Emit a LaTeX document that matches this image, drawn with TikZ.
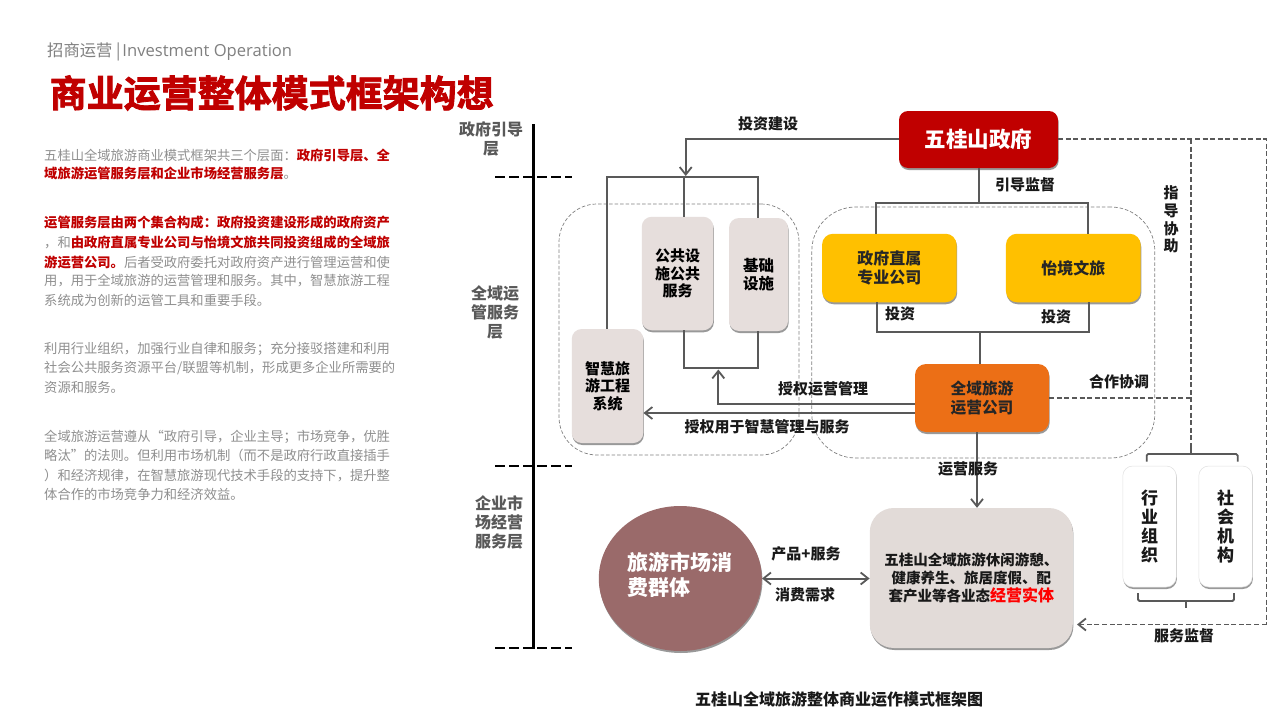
\documentclass[tikz,border=0pt]{standalone}
\usepackage{fontspec}
\setmainfont{Noto Sans CJK SC}
\newfontfamily\latinf{Open Sans}
\newfontfamily\titlef[FakeBold=2.2]{Noto Sans CJK SC Bold}
\usetikzlibrary{arrows.meta,shadows,positioning,shapes.geometric}
\definecolor{tred}{HTML}{C00000}
\definecolor{tgray}{HTML}{8F8F8F}
\definecolor{lgray}{HTML}{595959}
\definecolor{conn}{HTML}{595959}
\definecolor{pale}{HTML}{E6DEDC}
\definecolor{pale2}{HTML}{E2DBD8}
\definecolor{gold}{HTML}{FFC000}
\definecolor{orng}{HTML}{EC6F16}
\definecolor{mauve}{HTML}{9A6A6A}
\newcommand{\rb}[1]{{\bfseries\color{tred}#1}}
\newcommand{\fz}[1]{\fontsize{#1}{#1}\selectfont}
\tikzset{
  x=1pt,y=-1pt,
  shd/.style={drop shadow={shadow xshift=0.6pt,shadow yshift=-2pt,fill=black,opacity=.4}},
  card/.style={shape=rectangle,rounded corners=#1,inner sep=0pt,align=center,shd},
  card/.default=10pt,
  bodyline/.style={anchor=base west,inner sep=0pt,text=tgray,font=\fz{13.3}},
  lab/.style={inner sep=0pt,align=center,font=\bfseries\fontsize{15}{17.8}\selectfont,text=black!90},
  layerlab/.style={inner sep=0pt,align=center,font=\bfseries\fontsize{16}{19}\selectfont,text=lgray},
  cardtext/.style 2 args={font=\bfseries\fontsize{#1}{#2}\selectfont},
  wire/.style={draw=conn,line width=2pt},
  dwire/.style={draw=conn,line width=1.9pt,dash pattern=on 5pt off 2.6pt},
  tip/.style={-{Straight Barb[length=7.5pt,width=12pt,line width=1.8pt]}},
  grp/.style={shape=rectangle,draw=black!50,line width=.7pt,dash pattern=on 3.5pt off 2pt,inner sep=0pt},
  lay/.style={draw=black,line width=2.6pt,dash pattern=on 10pt off 4pt},
  brk/.style={draw=conn,line width=1.8pt,rounded corners=1.5pt},
}
\begin{document}
\begin{tikzpicture}
\useasboundingbox (0,0) rectangle (1280,720);
\fill[white] (0,0) rectangle (1280,720);

% header
\node[anchor=base west,inner sep=0pt,text=black!50,font=\fz{16.3}] (hdr) at (47,56) {招商运营 |\hspace{2pt}{\latinf\fontsize{16.6}{17}\selectfont Investment Operation}};
\node[anchor=base west,inner sep=0pt,text=tred,font=\titlef\fz{37}] (ttl) at (49.5,107) {商业运营整体模式框架构想};

% left text
\node[bodyline] (l1) at (44,160) {五桂山全域旅游商业模式框架共三个层面：\rb{政府引导层、全}};
\node[bodyline] (l2) at (44,178) {\rb{域旅游运管服务层和企业市场经营服务层}。};
\node[bodyline] (l3) at (44,227) {\rb{运管服务层由两个集合构成：政府投资建设形成的政府资产}};
\node[bodyline] (l4) at (44,247) {，和\rb{由政府直属专业公司与怡境文旅共同投资组成的全域旅}};
\node[bodyline] (l5) at (44,267) {\rb{游运营公司。}后者受政府委托对政府资产进行管理运营和使};
\node[bodyline] (l6) at (44,285) {用，用于全域旅游的运营管理和服务。其中，智慧旅游工程};
\node[bodyline] (l7) at (44,305) {系统成为创新的运管工具和重要手段。};
\node[bodyline] (l8) at (44,353) {利用行业组织，加强行业自律和服务；充分接驳搭建和利用};
\node[bodyline] (l9) at (44,372) {社会公共服务资源平台/联盟等机制，形成更多企业所需要的};
\node[bodyline] (l10) at (44,392) {资源和服务。};
\node[bodyline] (l11) at (44,441) {全域旅游运营遵从“政府引导，企业主导；市场竞争，优胜};
\node[bodyline] (l12) at (44,460) {略汰”的法则。但利用市场机制（而不是政府行政直接插手};
\node[bodyline] (l13) at (44,480) {）和经济规律，在智慧旅游现代技术手段的支持下，提升整};
\node[bodyline] (l14) at (44,499) {体合作的市场竞争力和经济效益。};

% layers axis
\coordinate (axT) at (533,124);
\coordinate (axB) at (533,649);
\draw[black,line width=3pt] (axT) -- (axB);
\coordinate (d1a) at (495,177); \coordinate (d1b) at (572,177);
\coordinate (d2a) at (495,466); \coordinate (d2b) at (572,466);
\coordinate (d3a) at (495,648); \coordinate (d3b) at (572,648);
\draw[lay] (d1a) -- (d1b);
\draw[lay] (d2a) -- (d2b);
\draw[lay] (d3a) -- (d3b);
\node[layerlab] (la1) at (491,139) {政府引导\\层};
\node[layerlab] (la2) at (495,312.5) {全域运\\管服务\\层};
\node[layerlab] (la3) at (499,522.5) {企业市\\场经营\\服务层};

% dashed groups
\node[grp,rounded corners=38pt,minimum width=240pt,minimum height=251pt] (gL) at (679,329.5) {};
\node[grp,rounded corners=44pt,minimum width=343pt,minimum height=251pt] (gR) at (983.3,332.5) {};

% nodes
\node[card=9pt,fill=tred,text=white,cardtext={21.5}{25},minimum width=159pt,minimum height=57pt] (gov) at (978.5,139.5) {五桂山政府};
\node[card,fill=pale,text=black,cardtext={15}{17.6},minimum width=71.5pt,minimum height=113.5pt] (pub) at (677.5,273.5) {公共设\\施公共\\服务};
\node[card,fill=pale,text=black,cardtext={15.5}{18},minimum width=59pt,minimum height=113pt] (inf) at (758.5,274.5) {基础\\设施};
\node[card,fill=pale,text=black,cardtext={15}{17.6},minimum width=71.5pt,minimum height=114pt] (sys) at (607.5,386) {智慧旅\\游工程\\系统};
\node[card=11pt,fill=gold,text=black!85,cardtext={16}{18.5},minimum width=134.5pt,minimum height=68.5pt] (y1) at (889.3,268) {政府直属\\专业公司};
\node[card=11pt,fill=gold,text=black!85,cardtext={16}{18.5},minimum width=134.7pt,minimum height=68.5pt] (y2) at (1073.3,268) {怡境文旅};
\node[card=11pt,fill=orng,text=black!85,cardtext={15.7}{19.2},minimum width=134pt,minimum height=68pt] (co) at (982,398) {全域旅游\\运营公司};
\node[card=24pt,fill=pale2,text=black!90,cardtext={14.5}{18},minimum width=203pt,minimum height=140pt] (biz) at (971.3,578) {五桂山全域旅游休闲游憩、\\健康养生、旅居度假、配\\套产业等各业态{\color{red}\fontsize{16}{16}\selectfont 经营实体}};
\node[card=10pt,fill=white,draw=black!12,line width=.5pt,text=black!90,cardtext={17}{19.3},minimum width=53.5pt,minimum height=121pt] (hy) at (1149.5,526.5) {行\\业\\组\\织};
\node[card=10pt,fill=white,draw=black!12,line width=.5pt,text=black!90,cardtext={17}{19.3},minimum width=53.5pt,minimum height=121pt] (sh) at (1225.5,526.5) {社\\会\\机\\构};
\node[shape=ellipse,inner sep=0pt,fill=mauve,shd,minimum width=163pt,minimum height=145pt] (mkt) at (680.3,578.5) {};
\node[anchor=west,inner sep=0pt,align=left,text=white,font=\bfseries\fontsize{21}{25}\selectfont] (mktT) at (627,574.5) {旅游市场消\\费群体};

% junctions
\coordinate (j1) at (685.7,139);
\coordinate (j2) at (685.7,176);
\coordinate (t1) at (607.3,177);
\coordinate (t2) at (758.3,177);
\coordinate (t3) at (683.5,177);
\coordinate (b1) at (683.5,367.5);
\coordinate (b2) at (758.3,367.5);
\coordinate (a1) at (718.3,404);
\coordinate (a2) at (718.3,369.5);
\coordinate (g1) at (979,203);
\coordinate (g2) at (876,203);
\coordinate (g3) at (1087.7,203);
\coordinate (h1) at (876.5,331.5);
\coordinate (h2) at (1088.5,331.5);
\coordinate (h3) at (980,331.5);
\coordinate (dv1) at (1191,139);
\coordinate (dv2) at (1191,398);
\coordinate (dv3) at (1191,446);
\coordinate (dr1) at (1266.5,139);
\coordinate (dr2) at (1266.5,624.5);
\coordinate (dr3) at (1077,624.5);
\coordinate (a3) at (718.3,413);
\coordinate (v1) at (977,432);

% connectors
\draw[wire,tip] (gov.west |- j1) -- (j1) -- (j2);
\draw[wire] (sys.north -| t1) -- (t1) -- (t2) -- (inf.north -| t2);
\draw[wire] (t3) -- (pub.north -| t3);
\draw[wire] (pub.south -| b1) -- (b1) -- (b2) -- (inf.south -| b2);
\draw[wire,tip] (co.west |- a1) -- (a1) -- (a2);
\draw[wire,tip] (co.west |- a3) -- (sys.east |- a3);
\draw[wire] (gov.south -| g1) -- (g1);
\draw[wire] (y1.north -| g2) -- (g2) -- (g3) -- (y2.north -| g3);
\draw[wire] (y1.south -| h1) -- (h1) -- (h2) -- (y2.south -| h2);
\draw[wire] (h3) -- (co.north -| h3);
\draw[wire,tip] (co.south -| v1) -- (biz.north -| v1);
\draw[wire,{Straight Barb[length=7.5pt,width=12pt,line width=1.8pt]}-{Straight Barb[length=7.5pt,width=12pt,line width=1.8pt]}] (mkt.east) -- (biz.west |- mkt.east);
\draw[dwire] (gov.east |- dv1) -- (dr1) -- (dr2);
\draw[dwire,tip] (dr2) -- (dr3);
\draw[dwire] (dv1) -- (dv3);
\draw[dwire] (co.east |- dv2) -- (dv2);

% brackets
\coordinate (kt1) at (1146.7,461.5); \coordinate (kt2) at (1146.7,454);
\coordinate (kt3) at (1237.7,454); \coordinate (kt4) at (1237.7,461.5);
\coordinate (kt5) at (1191,454);
\draw[brk] (kt1) -- (kt2) -- (kt3) -- (kt4);
\draw[brk,rounded corners=0pt] (dv3) -- (kt5);
\coordinate (kb1) at (1138,593); \coordinate (kb2) at (1138,601);
\coordinate (kb3) at (1234,601); \coordinate (kb4) at (1234,593);
\coordinate (kb5) at (1186,601); \coordinate (kb6) at (1186,608);
\draw[brk] (kb1) -- (kb2) -- (kb3) -- (kb4);
\draw[brk,rounded corners=0pt] (kb5) -- (kb6);

% labels
\node[lab] (t1a) at (768,124) {投资建设};
\node[lab] (t2a) at (1025,185) {引导监督};
\node[lab] (t3a) at (1171,219.5) {指\\导\\协\\助};
\node[lab] (t4a) at (900,314) {投资};
\node[lab] (t5a) at (1056,317) {投资};
\node[lab] (t6a) at (823,389) {授权运营管理};
\node[lab] (t7a) at (767,427) {授权用于智慧管理与服务};
\node[lab] (t8a) at (1119,382) {合作协调};
\node[lab] (t9a) at (968,469) {运营服务};
\node[lab] (t10a) at (806,554) {产品+服务};
\node[lab] (t11a) at (805,595) {消费需求};
\node[lab] (t12a) at (1184,636) {服务监督};
\node[lab,font=\bfseries\fz{16}] (cap) at (839,699) {五桂山全域旅游整体商业运作模式框架图};
\end{tikzpicture}
\end{document}
